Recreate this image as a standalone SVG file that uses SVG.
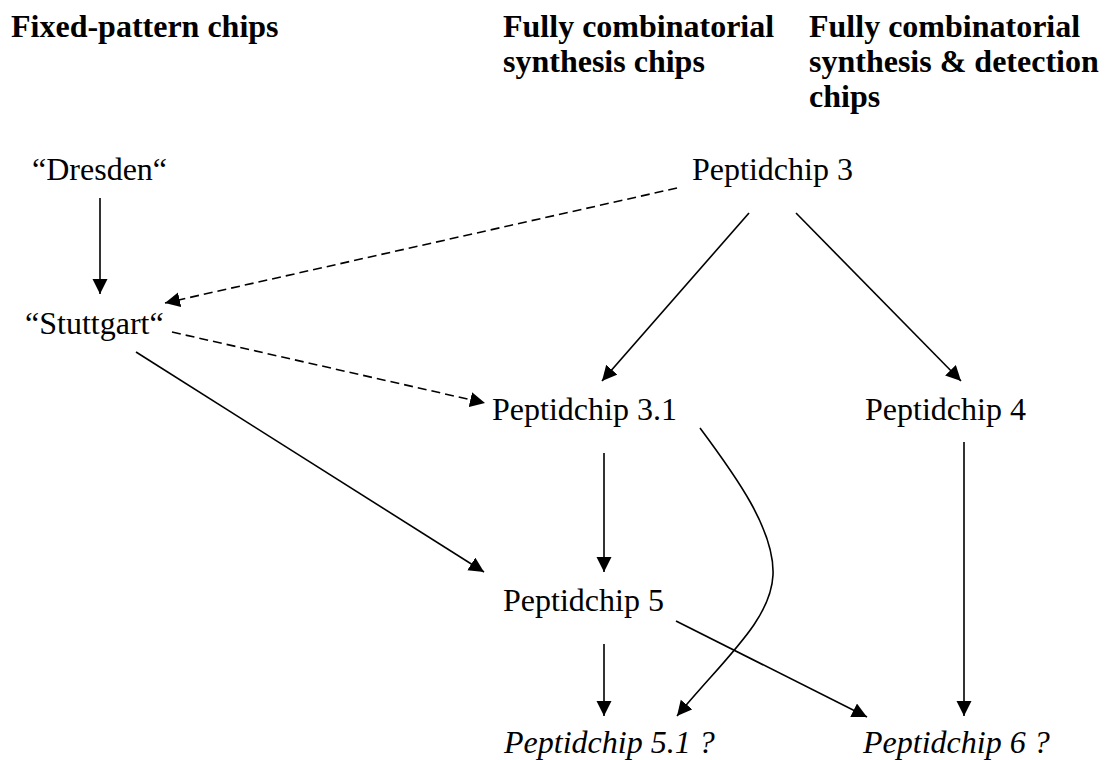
<svg xmlns="http://www.w3.org/2000/svg" width="1108" height="760" viewBox="0 0 1108 760">
<style>
text{font-family:"Liberation Serif","Times New Roman",serif;font-size:32px;fill:#000}
.h{font-weight:bold}
.i{font-style:italic}
.c{fill:none;stroke:#000;stroke-width:1.6;marker-end:url(#ah)}
.d{stroke-dasharray:9 5}
</style>
<defs>
<marker id="ah" markerUnits="userSpaceOnUse" markerWidth="16" markerHeight="16" refX="15" refY="7.5" orient="auto">
<path d="M0,0 L15,7.5 L0,15 z" fill="#000"/>
</marker>
</defs>
<rect width="1108" height="760" fill="#fff"/>
<g id="headers">
<text class="h" x="11" y="37">Fixed-pattern chips</text>
<text class="h" x="503" y="37">Fully combinatorial</text>
<text class="h" x="503" y="72">synthesis chips</text>
<text class="h" x="809" y="37">Fully combinatorial</text>
<text class="h" x="809" y="72">synthesis &amp; detection</text>
<text class="h" x="809" y="107">chips</text>
</g>
<g id="dresden"><text x="32" y="180">“Dresden“</text></g>
<g id="stuttgart"><text x="25" y="334">“Stuttgart“</text></g>
<g id="peptidchip3"><text x="692" y="180">Peptidchip 3</text></g>
<g id="peptidchip31"><text x="492" y="420">Peptidchip 3.1</text></g>
<g id="peptidchip4"><text x="865" y="420">Peptidchip 4</text></g>
<g id="peptidchip5"><text x="503" y="611">Peptidchip 5</text></g>
<g id="peptidchip51"><text class="i" x="504" y="753">Peptidchip 5.1 ?</text></g>
<g id="peptidchip6"><text class="i" x="863" y="753">Peptidchip 6 ?</text></g>
<g id="connectors">
<path class="c" d="M100,198 L100,294"/>
<path class="c d" d="M677,188 L165,303"/>
<path class="c d" d="M172,332 L485,403"/>
<path class="c" d="M749,213 L602,381"/>
<path class="c" d="M796,213 L961,381"/>
<path class="c" d="M136,352 L484,572"/>
<path class="c" d="M604,453 L604,572"/>
<path class="c" d="M700,428 C735,475 775,530 773,575 C771,620 725,658 677,716"/>
<path class="c" d="M964,442 L964,716"/>
<path class="c" d="M676,621 L867,717"/>
<path class="c" d="M604,644 L604,716"/>
</g>
</svg>
